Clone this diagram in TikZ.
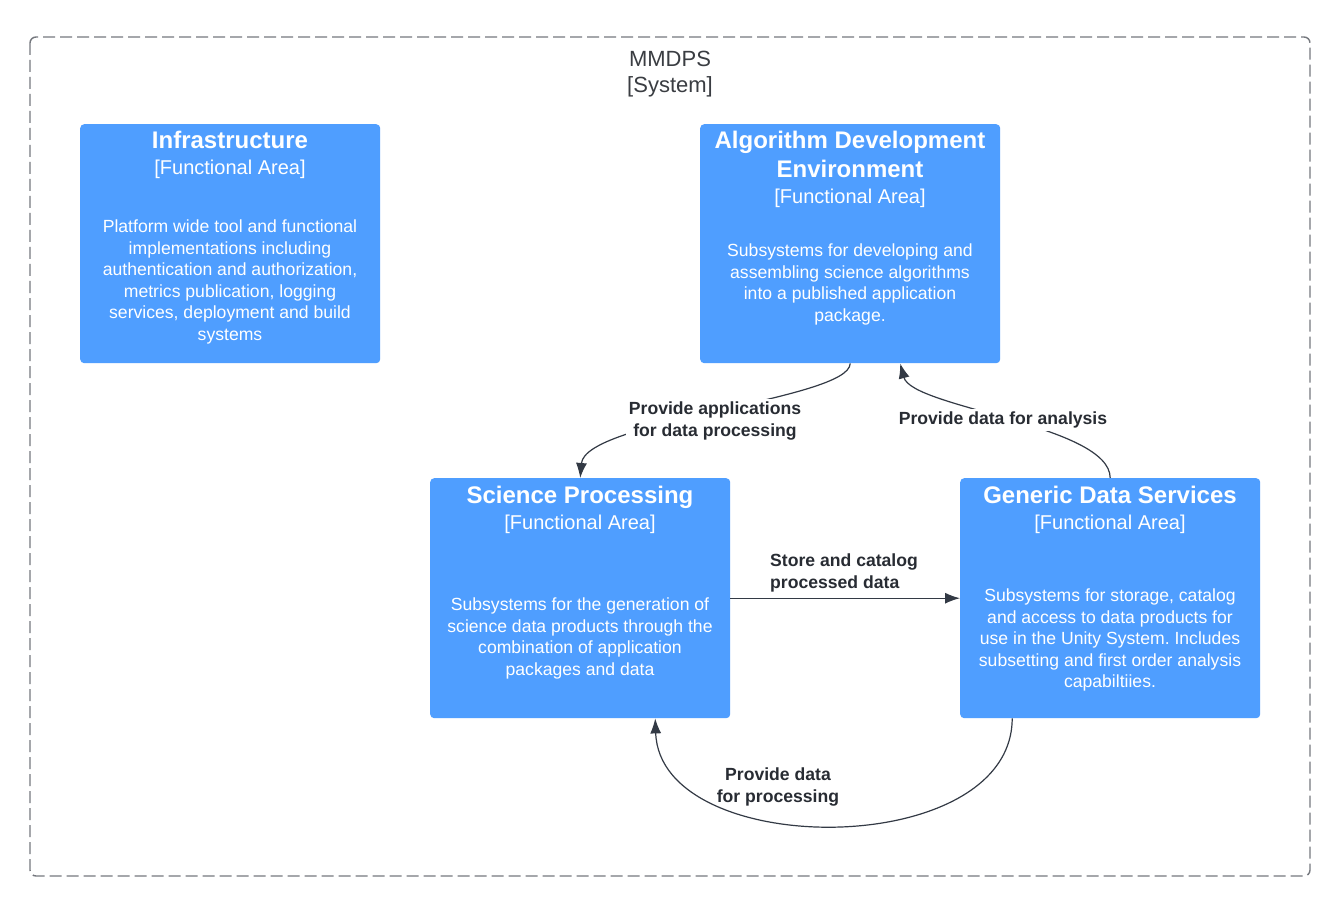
\documentclass[tikz,border=0pt]{standalone}
\usepackage{fontspec}
\setmainfont{Liberation Sans}
\usetikzlibrary{arrows.meta}
\frenchspacing
\definecolor{boxblue}{HTML}{4F9EFF}
\definecolor{linecol}{HTML}{333A45}
\definecolor{labcol}{HTML}{282C33}
\definecolor{framecol}{HTML}{75787E}
\definecolor{systxt}{HTML}{3A3D42}
\begin{document}
\begin{tikzpicture}[x=1pt,y=-1pt,
  fabox/.style={draw=none,fill=boxblue,rounded corners=4pt,minimum width=300pt,minimum height=240pt,inner sep=0pt,anchor=north west},
  ttl/.style={anchor=north,inner sep=0pt,text=white,align=center,font=\fontsize{24}{29}\selectfont\bfseries},
  fa/.style={anchor=north,inner sep=0pt,text=white,align=center,font=\fontsize{20}{24}\selectfont},
  desc/.style={anchor=north,inner sep=0pt,text=white,align=center,font=\fontsize{17.6}{21.5}\selectfont},
  lab/.style={anchor=north,inner sep=3pt,text=labcol,align=center,font=\fontsize{17.6}{21.5}\selectfont\bfseries},
  conn/.style={draw=linecol,line width=1.2pt,-{Latex[length=15pt,width=11pt]}}
]
\useasboundingbox[fill=white] (0,0) rectangle (1339,904);
% system boundary
\draw[framecol,line width=1.4pt,dash pattern=on 12pt off 5pt,rounded corners=6pt] (30,37) rectangle (1310,876);
\node[anchor=north,inner sep=0pt,text=systxt,align=center,font=\fontsize{22}{26}\selectfont] (sys) at (670,51) {MMDPS\\{[System]}};

% boxes
\node[fabox,minimum height=239pt] (infra) at (80,124) {};
\node[fabox,minimum height=239pt] (ade) at (700,124) {};
\node[fabox] (sp) at (430,478) {};
\node[fabox] (gds) at (960,478) {};

% Infrastructure texts
\node[ttl] (infraT) at (230,131.4) {Infrastructure};
\node[fa] (infraF) at (230,159.8) {[Functional Area]};
\node[desc] (infraD) at (230,219.7) {Platform wide tool and functional\\implementations including\\authentication and authorization,\\metrics publication, logging\\services, deployment and build\\systems};

% ADE texts
\node[ttl] (adeT) at (850,131.4) {Algorithm Development\\Environment};
\node[fa] (adeF) at (850,188.8) {[Functional Area]};
\node[desc] (adeD) at (850,243.7) {Subsystems for developing and\\assembling science algorithms\\into a published application\\package.};

% SP texts
\node[ttl] (spT) at (580,486.4) {Science Processing};
\node[fa] (spF) at (580,514.8) {[Functional Area]};
\node[desc] (spD) at (580,597.7) {Subsystems for the generation of\\science data products through the\\combination of application\\packages and data};

% GDS texts
\node[ttl] (gdsT) at (1110,486.4) {Generic Data Services};
\node[fa] (gdsF) at (1110,514.8) {[Functional Area]};
\node[desc] (gdsD) at (1110,588.7) {Subsystems for storage, catalog\\and access to data products for\\use in the Unity System. Includes\\subsetting and first order analysis\\capabiltiies.};

% connectors
\draw[conn] (ade.south) .. controls (850,400) and (585,420) .. (sp.north);
\draw[conn] (gds.north) .. controls (1110,425) and (912,408) .. ([xshift=50pt]ade.south);
\draw[conn] (sp.east) -- (gds.west);
\draw[conn] ([xshift=-98pt]gds.south) .. controls (1012,861) and (660,861) .. ([xshift=75pt]sp.south);

% labels
\node[lab,fill=white] (l1) at (715,398.7) {Provide applications\\for data processing};
\node[lab,fill=white] (l2) at (1003,408.7) {Provide data for analysis};
\node[lab,anchor=north west,align=left] (l3) at (767,550.7) {Store and catalog\\processed data};
\node[lab] (l4) at (778,764.7) {Provide data\\for processing};
\end{tikzpicture}
\end{document}
